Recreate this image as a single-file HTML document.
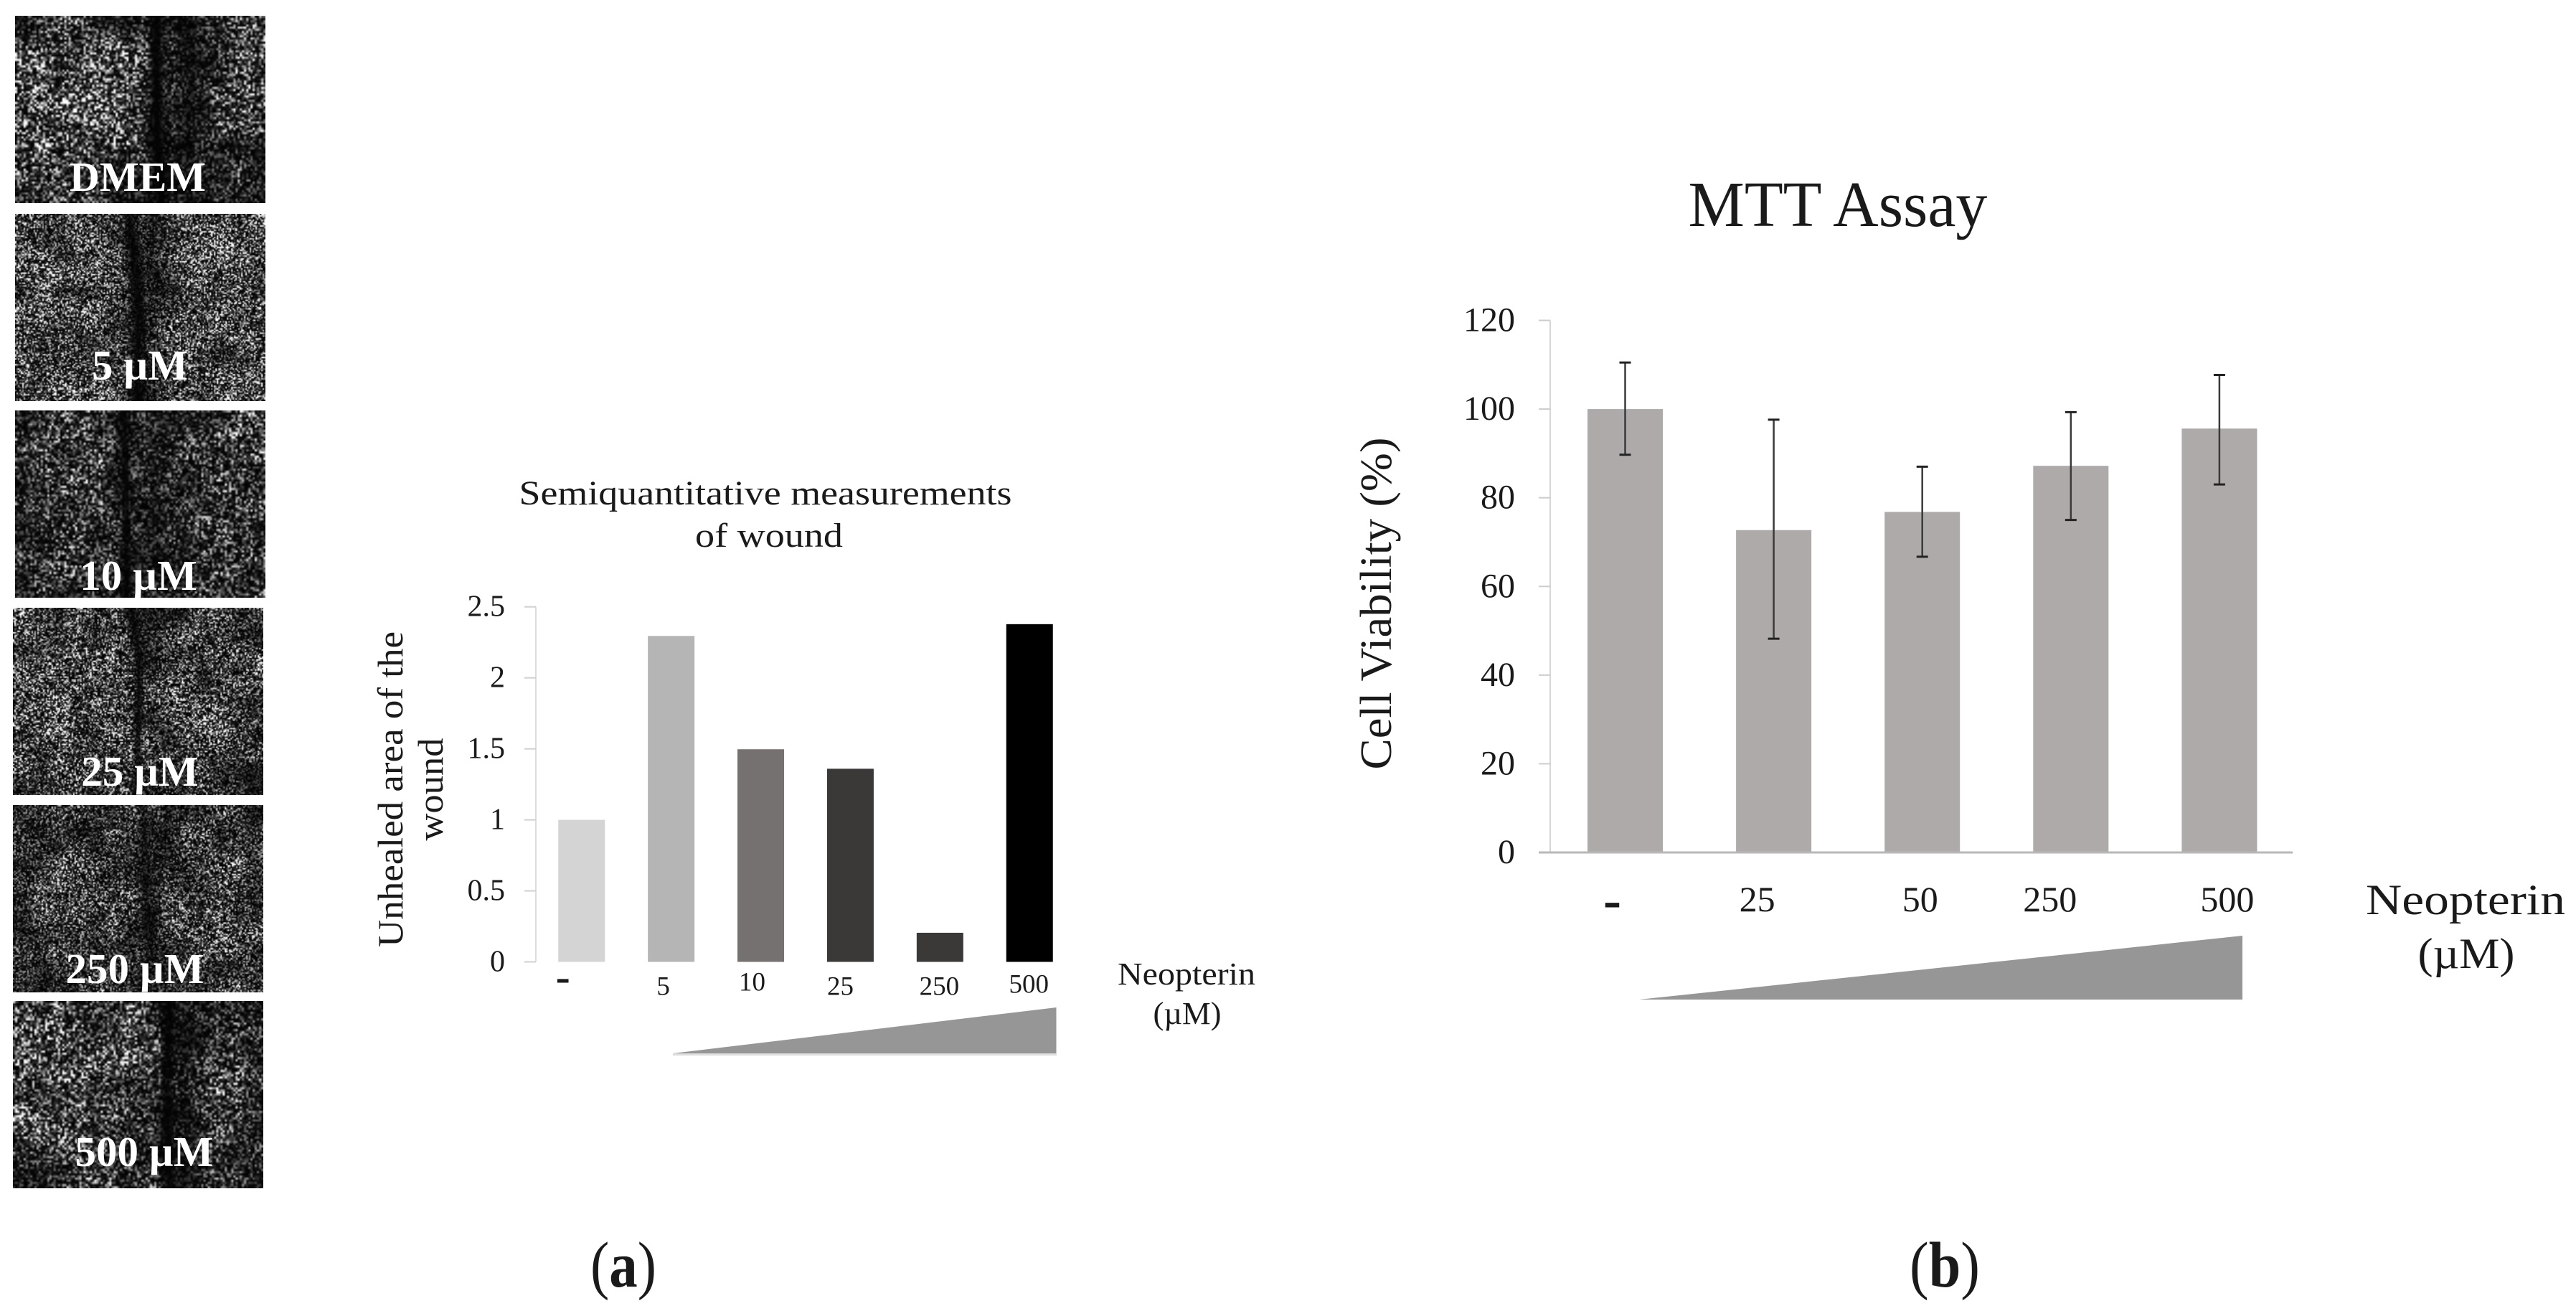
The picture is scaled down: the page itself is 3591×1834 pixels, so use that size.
<!DOCTYPE html>
<html lang="en">
<head>
<meta charset="utf-8">
<title>Neopterin wound healing and MTT assay</title>
<style>
html,body{margin:0;padding:0;background:#fff;}
#figure{position:relative;width:3591px;height:1834px;overflow:hidden;background:#fff;}
#figure canvas{position:absolute;display:block;}
#figure svg{position:absolute;left:0;top:0;}
text{font-family:"Liberation Serif","DejaVu Serif",serif;fill:#1a1a1a;}
</style>
</head>
<body>
<div id="figure">
<svg id="plot" width="3591" height="1834" viewBox="0 0 3591 1834">
  <polygon points="938,1468 1472.5,1404 1472.5,1468" fill="#969696"></polygon>
  <rect x="938" y="1468" width="535" height="3" fill="#dedede"></rect>
  <polygon points="2285,1393 3126,1304 3126,1393" fill="#969696"></polygon>

  <text x="1067" y="703" font-size="48" text-anchor="middle" textLength="687" lengthAdjust="spacingAndGlyphs">Semiquantitative measurements</text>
  <text x="1072" y="762" font-size="48" text-anchor="middle" textLength="206" lengthAdjust="spacingAndGlyphs">of wound</text>
  <text transform="translate(561,1100) rotate(-90)" font-size="50" text-anchor="middle" textLength="440" lengthAdjust="spacingAndGlyphs">Unhealed area of the</text>
  <text transform="translate(617,1100) rotate(-90)" font-size="50" text-anchor="middle" textLength="143" lengthAdjust="spacingAndGlyphs">wound</text>
  <text x="1654" y="1372" font-size="44" text-anchor="middle" textLength="192" lengthAdjust="spacingAndGlyphs">Neopterin</text>
  <text x="1655" y="1427" font-size="44" text-anchor="middle" textLength="95" lengthAdjust="spacingAndGlyphs">(µM)</text>

  <text x="2562" y="315" font-size="90" text-anchor="middle" textLength="417" lengthAdjust="spacingAndGlyphs">MTT Assay</text>
  <text transform="translate(1939,841) rotate(-90)" font-size="62" text-anchor="middle" textLength="463" lengthAdjust="spacingAndGlyphs">Cell Viability (%)</text>
  <text x="3437" y="1274" font-size="60" text-anchor="middle" textLength="278" lengthAdjust="spacingAndGlyphs">Neopterin</text>
  <text x="3438" y="1349" font-size="60" text-anchor="middle" textLength="135" lengthAdjust="spacingAndGlyphs">(µM)</text>

  <text x="869" y="1793" font-size="90" text-anchor="middle" textLength="92" lengthAdjust="spacingAndGlyphs">(<tspan font-weight="bold">a</tspan>)</text>
  <text x="2711" y="1793" font-size="90" text-anchor="middle" textLength="98" lengthAdjust="spacingAndGlyphs">(<tspan font-weight="bold">b</tspan>)</text>
</svg>
</div>
<script>
/* ---------- Chart (a): wound area ---------- */
const woundCategories = ['-', '5', '10', '25', '250', '500'];
const woundValues = [1.0, 2.295, 1.497, 1.36, 0.205, 2.378];
const woundTickValues = [0, 0.5, 1, 1.5, 2, 2.5];
const woundTickLabels = ['0', '0.5', '1', '1.5', '2', '2.5'];

/* ---------- Chart (b): MTT assay ---------- */
const mttCategories = ['-', '25', '50', '250', '500'];
const mttValues = [100, 72.7, 76.8, 87.2, 95.6];
const mttErrorHigh = [110.5, 97.6, 87, 99.3, 107.7];
const mttErrorLow = [89.7, 48.2, 66.7, 75, 83];
const mttTickValues = [0, 20, 40, 60, 80, 100, 120];
const mttTickLabels = ['0', '20', '40', '60', '80', '100', '120'];

/* ---------- Styling and layout, kept apart from the data ---------- */
const woundBarColors = ['#d4d4d4', '#b5b5b5', '#767171', '#3b3838', '#3b3838', '#000000'];
const woundLabelShiftX = [-26, -11, -12, -14, -1, -1];
const woundLabelShiftY = [0, 46, 40, 46, 46, 43];
const mttLabelShiftX = [-18, -23, -3, -29, 11];
const SVGNS = 'http://www.w3.org/2000/svg';
const plot = document.getElementById('plot');

function woundX(i) { return 810.75 + 124.9 * i; }
function woundY(v) { return 1340.5 - (v / 2.5) * 494.8; }
function mttX(i) { return 2265.5 + 207.1 * i; }
function mttY(v) { return 1188 - (v / 120) * 741.5; }

function shape(tag, props) {
  const el = document.createElementNS(SVGNS, tag);
  Object.keys(props).forEach(function (k) { el.setAttribute(k, props[k]); });
  plot.appendChild(el);
  return el;
}

/* chart a: axis */
const woundAxis = shape('line', { x1: 747, x2: 747, y1: woundY(2.5), y2: woundY(0), stroke: '#dcdcdc', 'stroke-width': 2 });



woundTickValues.forEach(function (v, i) {
  const tick = shape('line', { x1: 731, x2: 747, y1: woundY(v), y2: woundY(v), stroke: '#d0d0d0', 'stroke-width': 2 });
  
  
  const label = shape('text', { x: 704, y: woundY(v) + 13, 'font-size': 42, 'text-anchor': 'end' });
  label.textContent = woundTickLabels[i];
  
  
});

/* chart a: bars */
woundValues.forEach(function (v, i) {
  const bar = shape('rect', { x: woundX(i) - 32.5, y: woundY(v), width: 65, height: woundY(0) - woundY(v), fill: woundBarColors[i] });
  
  
});

woundCategories.forEach(function (c, i) {
  const isDash = c === '-';
  const label = shape('text', {
    x: woundX(i) + woundLabelShiftX[i],
    y: isDash ? 1381 : woundY(0) + woundLabelShiftY[i],
    'font-size': isDash ? 60 : 37,
    'font-weight': isDash ? 'bold' : 'normal',
    'text-anchor': 'middle'
  });
  label.textContent = c;
  
  
});

/* chart b: axes */
const mttAxis = shape('line', { x1: 2161, x2: 2161, y1: mttY(120), y2: mttY(0), stroke: '#d6d6d6', 'stroke-width': 2 });



mttTickValues.forEach(function (v, i) {
  const tick = shape('line', { x1: 2145, x2: 2161, y1: mttY(v), y2: mttY(v), stroke: '#cccccc', 'stroke-width': 2 });
  
  
  const label = shape('text', { x: 2112, y: mttY(v) + 15, 'font-size': 48, 'text-anchor': 'end' });
  label.textContent = mttTickLabels[i];
  
  
});

/* chart b: bars and error bars */
mttValues.forEach(function (v, i) {
  const bar = shape('rect', { x: mttX(i) - 52.5, y: mttY(v), width: 105, height: mttY(0) - mttY(v), fill: '#aeaaaa' });
  
  
});

const mttBaseline = shape('line', { x1: 2145, x2: 3196, y1: mttY(0), y2: mttY(0), stroke: '#b8b8b8', 'stroke-width': 3 });



mttValues.forEach(function (v, i) {
  const cx = mttX(i);
  const hi = mttY(mttErrorHigh[i]);
  const lo = mttY(mttErrorLow[i]);
  const stem = shape('line', { x1: cx, x2: cx, y1: hi, y2: lo, stroke: '#3a3a3a', 'stroke-width': 2.5 });
  
  
  const capHigh = shape('line', { x1: cx - 8, x2: cx + 8, y1: hi, y2: hi, stroke: '#222222', 'stroke-width': 3 });
  
  
  const capLow = shape('line', { x1: cx - 8, x2: cx + 8, y1: lo, y2: lo, stroke: '#222222', 'stroke-width': 3 });
  
  
});

mttCategories.forEach(function (c, i) {
  const isDash = c === '-';
  const label = shape('text', {
    x: mttX(i) + mttLabelShiftX[i],
    y: isDash ? 1279 : 1270,
    'font-size': isDash ? 75 : 50,
    'font-weight': isDash ? 'bold' : 'normal',
    'text-anchor': 'middle'
  });
  label.textContent = c;
  
  
});

/* ---------- Micrograph panels: procedural speckle texture ---------- */
const micrographs = [
  { name: 'dmem', label: 'DMEM', x: 21, y: 22, lx: 192, ly: 266, fs: 58, block: 3, depth: .97, wound: [[0, .56], [.5, .56], [1, .58]], w: .04, grid: [
    [.30,.30,.30,.25,.25,.10,.30,.30],
    [.45,.50,.60,.55,.35,.10,.25,.30],
    [.50,.60,.65,.50,.30,.10,.30,.35],
    [.40,.50,.50,.40,.25,.08,.30,.30],
    [.40,.35,.30,.30,.20,.10,.20,.25],
    [.30,.30,.25,.20,.20,.12,.22,.25]] },
  { name: '5-um', label: '5 µM', x: 21, y: 298, lx: 195, ly: 529, fs: 59, block: 2, depth: .9, wound: [[0, .455], [.5, .49], [1, .485]], w: .035, grid: [
    [.38,.38,.40,.40,.20,.42,.42,.45],
    [.36,.42,.42,.34,.18,.42,.48,.50],
    [.40,.42,.42,.28,.15,.38,.42,.48],
    [.42,.44,.34,.25,.22,.38,.42,.42],
    [.36,.38,.38,.34,.22,.36,.38,.42],
    [.38,.42,.38,.34,.25,.38,.44,.46]] },
  { name: '10-um', label: '10 µM', x: 21, y: 572, lx: 193, ly: 822, fs: 59, block: 3, depth: .9, wound: [[0, .43], [.5, .44], [1, .44]], w: .022, grid: [
    [.24,.28,.28,.22,.14,.30,.32,.30],
    [.24,.30,.32,.26,.12,.30,.36,.34],
    [.22,.30,.30,.26,.18,.28,.30,.30],
    [.24,.34,.30,.20,.16,.26,.34,.34],
    [.24,.28,.34,.22,.16,.26,.34,.28],
    [.26,.26,.24,.20,.14,.26,.28,.26]] },
  { name: '25-um', label: '25 µM', x: 18, y: 847, lx: 195, ly: 1095, fs: 59, block: 2, depth: .85, wound: [[0, .47], [.25, .50], [.5, .50], [1, .49]], w: .02, grid: [
    [.40,.38,.38,.40,.22,.36,.42,.32],
    [.38,.42,.42,.42,.26,.42,.42,.38],
    [.40,.40,.40,.34,.28,.42,.42,.36],
    [.40,.42,.40,.38,.28,.40,.42,.38],
    [.44,.42,.42,.36,.28,.34,.44,.44],
    [.30,.38,.30,.30,.24,.30,.28,.18]] },
  { name: '250-um', label: '250 µM', x: 18, y: 1122, lx: 188, ly: 1370, fs: 59, block: 2, depth: .6, wound: [[0, .52], [.5, .53], [.7, .55], [1, .52]], w: .03, grid: [
    [.22,.32,.34,.36,.22,.30,.30,.20],
    [.22,.34,.30,.34,.24,.22,.36,.30],
    [.34,.46,.42,.40,.22,.34,.34,.38],
    [.28,.36,.38,.34,.22,.38,.38,.34],
    [.24,.28,.34,.32,.20,.30,.34,.34],
    [.26,.26,.30,.30,.18,.26,.28,.26]] },
  { name: '500-um', label: '500 µM', x: 18, y: 1395, lx: 201, ly: 1625, fs: 59, block: 3, depth: .92, wound: [[0, .62], [.5, .61], [1, .62]], w: .03, grid: [
    [.36,.36,.38,.30,.30,.12,.30,.24],
    [.44,.42,.30,.40,.30,.12,.32,.26],
    [.42,.44,.44,.42,.30,.12,.36,.30],
    [.38,.42,.40,.36,.28,.10,.34,.34],
    [.30,.36,.30,.34,.26,.10,.24,.20],
    [.22,.30,.30,.30,.24,.08,.24,.20]] }
];

function rng(seed) {
  return function () {
    seed |= 0; seed = seed + 0x6D2B79F5 | 0;
    let t = Math.imul(seed ^ seed >>> 15, 1 | seed);
    t = t + Math.imul(t ^ t >>> 7, 61 | t) ^ t;
    return ((t ^ t >>> 14) >>> 0) / 4294967296;
  };
}

function sampleGrid(grid, u, v) {
  const gx = Math.min(u * grid[0].length - 0.5, grid[0].length - 1.001);
  const gy = Math.min(v * grid.length - 0.5, grid.length - 1.001);
  const x0 = Math.max(0, Math.floor(gx));
  const y0 = Math.max(0, Math.floor(gy));
  const fx = Math.max(0, gx - x0);
  const fy = Math.max(0, gy - y0);
  const a = grid[y0][x0] * (1 - fx) + grid[y0][x0 + 1] * fx;
  const b = grid[y0 + 1][x0] * (1 - fx) + grid[y0 + 1][x0 + 1] * fx;
  return a * (1 - fy) + b * fy;
}

function woundCenter(path, v) {
  for (let i = 1; i < path.length; i++) {
    if (v <= path[i][0]) {
      const t = (v - path[i - 1][0]) / (path[i][0] - path[i - 1][0]);
      return path[i - 1][1] + (path[i][1] - path[i - 1][1]) * t;
    }
  }
  return path[path.length - 1][1];
}

const figure = document.getElementById('figure');
micrographs.forEach(function (m, idx) {
  const W = 349, H = 261;
  const cw = Math.ceil(W / m.block), ch = Math.ceil(H / m.block);
  const c = document.createElement('canvas');
  c.width = cw;
  c.height = ch;
  c.style.left = m.x + 'px';
  c.style.top = m.y + 'px';
  c.style.width = W + 'px';
  c.style.height = H + 'px';
  
  
  const ctx = c.getContext('2d');
  const img = ctx.createImageData(cw, ch);
  const r = rng(1234 + idx * 97);
  /* coarse clumps so the cell texture is patchy rather than uniform */
  const clumpCols = 14, clumpRows = 11;
  const clumps = [];
  for (let a = 0; a < clumpRows; a++) {
    const row = [];
    for (let b = 0; b < clumpCols; b++) { row.push(0.45 + 1.1 * r()); }
    clumps.push(row);
  }
  for (let j = 0; j < ch; j++) {
    for (let i = 0; i < cw; i++) {
      const u = i / cw, v = j / ch;
      const base = sampleGrid(m.grid, u, v) * sampleGrid(clumps, u, v);
      const d = (u - woundCenter(m.wound, v)) / m.w;
      const gap = 1 - m.depth * Math.exp(-d * d);
      const s = r();
      const g = Math.min(255, 255 * base * gap * 2.8 * s * s * s + 3);
      const p = (j * cw + i) * 4;
      img.data[p] = img.data[p + 1] = img.data[p + 2] = g;
      img.data[p + 3] = 255;
    }
  }
  ctx.putImageData(img, 0, 0);
  figure.insertBefore(c, plot);

  const label = shape('text', { x: m.lx, y: m.ly, 'font-size': m.fs, 'font-weight': 'bold', 'text-anchor': 'middle' });
  label.textContent = m.label;
  label.style.fill = '#ffffff';
  
  
});
</script>
</body>
</html>
